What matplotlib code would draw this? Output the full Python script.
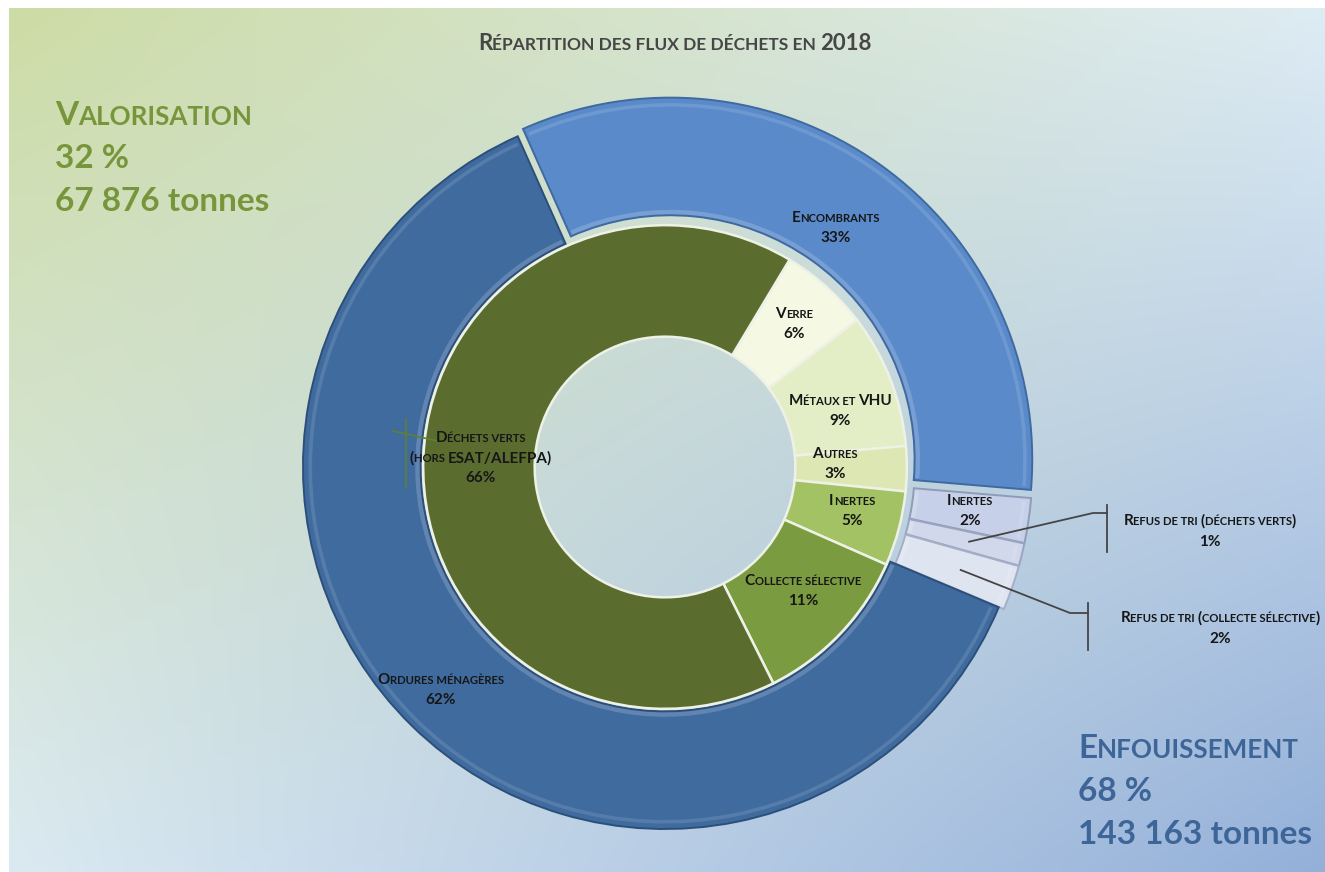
import numpy as np
import matplotlib
matplotlib.use("Agg")
import matplotlib.pyplot as plt
from matplotlib.patches import Wedge
from matplotlib.font_manager import FontProperties

FONT = ["Lato", "DejaVu Sans"]

# Enfouissement (outer ring), clockwise from the top
outer_labels = ["Encombrants", "Inertes", "Refus de tri (déchets verts)",
                "Refus de tri (collecte sélective)", "Ordures ménagères"]
outer_values = [33, 2, 1, 2, 62]
outer_colors = ["#5a8aca", "#c6d0e9", "#d1d8eb", "#dfe4f1", "#3f6b9f"]
outer_edges = ["#3f6aa0", "#8f9bb8", "#9aa4bf", "#a5aec7", "#2c4f7a"]
outer_explode = [0.025, 0.015, 0.015, 0.015, 0.0]

# Valorisation (inner ring), clockwise from Verre
inner_labels = ["Verre", "Métaux et VHU", "Autres", "Inertes",
                "Collecte sélective", "Déchets verts\n(hors ESAT/ALEFPA)"]
inner_values = [6, 9, 3, 5, 11, 66]
inner_colors = ["#f5f8e3", "#e4eec6", "#dce7b4", "#a3c263", "#7b9b41", "#5a6d2f"]

valo_lines = ["Valorisation", "32 %", "67 876 tonnes"]
enfo_lines = ["Enfouissement", "68 %", "143 163 tonnes"]

CX, CY, R = 665, 467, 362  # pixel centre and outer radius
DPI = 100


def px(x, y):
    return (x - CX) / R, (CY - y) / R


def sc_runs(text):
    runs = []
    for ch in text:
        if ch == " " and runs:
            small = runs[-1][1]
        else:
            small = ch.islower()
        if runs and runs[-1][1] == small:
            runs[-1][0] += ch.upper()
        else:
            runs.append([ch.upper(), small])
    return runs


fig = plt.figure(figsize=(13.25, 8.72), dpi=DPI, facecolor="white")
ax = fig.add_axes([0, 0, 1, 1])
renderer = fig.canvas.get_renderer()


def advance(s, size):
    fp = FontProperties(family=FONT, weight="bold", size=size)
    w1, _, _ = renderer.get_text_width_height_descent(s + "I", fp, ismath=False)
    w2, _, _ = renderer.get_text_width_height_descent("I", fp, ismath=False)
    return w1 - w2


def label(lines, xy, size=11, color="#161616", align="center", lh=None,
          sc_rows=None, ratio=0.74):
    """Multi-line small-caps label, block centred vertically on xy."""
    size_px = size * DPI / 72
    if lh is None:
        lh = size_px * 1.32
    cap = 0.72 * size_px
    n = len(lines)
    x0, y0 = xy
    for i, ln in enumerate(lines):
        sc = sc_rows is None or i in sc_rows
        runs = sc_runs(ln) if sc else [[ln, False]]
        sizes = [size * ratio if sm else size for _, sm in runs]
        widths = [advance(s, sz) / R for (s, _), sz in zip(runs, sizes)]
        total = sum(widths)
        x = x0 - total / 2 if align == "center" else x0
        base = y0 + ((n - 1) / 2 * lh - i * lh - cap / 2) / R
        for (s, _), sz, w in zip(runs, sizes, widths):
            ax.text(x, base, s, fontsize=sz, fontweight="bold", family=FONT,
                    color=color, ha="left", va="baseline", zorder=10)
            x += w


# background wash, green top-left to blue bottom-right
ny, nx = 200, 300
u = np.linspace(0, 1, nx)[None, :]
v = np.linspace(0, 1, ny)[:, None]
tl = np.array([205, 220, 165]) / 255
tr = np.array([222, 236, 244]) / 255
bl = np.array([219, 234, 242]) / 255
br = np.array([148, 176, 217]) / 255
grad = ((1 - u) * (1 - v))[..., None] * tl + (u * (1 - v))[..., None] * tr \
    + ((1 - u) * v)[..., None] * bl + (u * v)[..., None] * br
bx0, by0 = px(9, 9)
bx1, by1 = px(1325, 872)
ax.imshow(grad, extent=[bx0, bx1, by1, by0], origin="upper", zorder=0,
          interpolation="bicubic", aspect="auto")

ow, _ = ax.pie(outer_values, radius=1.0, startangle=114, counterclock=False,
               colors=outer_colors, explode=outer_explode,
               wedgeprops=dict(width=0.325, linewidth=1.4))
for w, ec in zip(ow, outer_edges):
    w.set_edgecolor(ec)
    w.set_zorder(2)
    # light bevel along the inner and outer rims of each outer wedge
    ax.add_patch(Wedge(w.center, 0.69, w.theta1 + 0.5, w.theta2 - 0.5, width=0.012,
                       facecolor="white", alpha=0.18, edgecolor="none", zorder=3))
    ax.add_patch(Wedge(w.center, 0.985, w.theta1 + 0.5, w.theta2 - 0.5, width=0.01,
                       facecolor="white", alpha=0.12, edgecolor="none", zorder=3))

iw, _ = ax.pie(inner_values, radius=0.668, startangle=59, counterclock=False,
               colors=inner_colors,
               wedgeprops=dict(width=0.308, linewidth=1.8, edgecolor="#eef1e6"))
for w in iw:
    w.set_zorder(4)

ax.set_xlim(bx0 - 9 / R, bx1)
ax.set_ylim(by1, by0 + 9 / R)
ax.set_aspect("auto")
ax.axis("off")


def mid(w, r, da=0.0):
    a = np.deg2rad((w.theta1 + w.theta2) / 2 + da)
    return w.center[0] + r * np.cos(a), w.center[1] + r * np.sin(a)


def pct(v):
    return f"{v}%"


# labels inside the rings
label([outer_labels[0], pct(outer_values[0])], mid(ow[0], 0.79))
label([outer_labels[1], pct(outer_values[1])], mid(ow[1], 0.835, 0.5))
label([outer_labels[4], pct(outer_values[4])], mid(ow[4], 0.87, -1.0))

inner_r = [0.535, 0.51, 0.47, 0.53, 0.51, 0.51]
inner_da = [0, -3, 2, 2, 2, -1]
for w, name, val, r, da in zip(iw, inner_labels, inner_values, inner_r, inner_da):
    label(name.split("\n") + [pct(val)], mid(w, r, da))

# leader lines for the two small refus wedges
lc = "#454545"
for w, elbow, bar_x, bar_y, txt_xy, name, val in [
    (ow[2], px(1093, 513), 1107, (505, 552), px(1210, 530), outer_labels[2], outer_values[2]),
    (ow[3], px(1070, 613), 1088, (603, 650), px(1220, 627), outer_labels[3], outer_values[3]),
]:
    sx, sy = mid(w, 0.85)
    bx, _ = px(bar_x, 0)
    ax.plot([sx, elbow[0], bx], [sy, elbow[1], elbow[1]], color=lc, lw=1.3, zorder=6)
    ax.plot([bx, bx], [px(0, bar_y[0])[1], px(0, bar_y[1])[1]], color=lc, lw=1.3, zorder=6)
    label([name, pct(val)], txt_xy)

# stray green leader next to the Déchets verts label
gx, _ = px(406, 0)
ax.plot([gx, gx], [px(0, 419)[1], px(0, 488)[1]], color="#5f7f34", lw=1.2, zorder=6)
ax.plot([px(393, 0)[0], px(442, 0)[0]], [px(0, 431)[1], px(0, 442)[1]],
        color="#5f7f34", lw=1.2, zorder=6)

# title
label(["Répartition des flux de déchets en 2018"], px(675, 42), size=16,
      color="#464646", ratio=0.78)

# side summaries
label(valo_lines, px(55, 156), size=24, color="#77963b", align="left",
      lh=43, sc_rows=[0], ratio=0.78)
label(enfo_lines, px(1078, 789), size=24, color="#3e6597", align="left",
      lh=43, sc_rows=[0], ratio=0.78)

fig.savefig("out.png", dpi=DPI, facecolor="white")
